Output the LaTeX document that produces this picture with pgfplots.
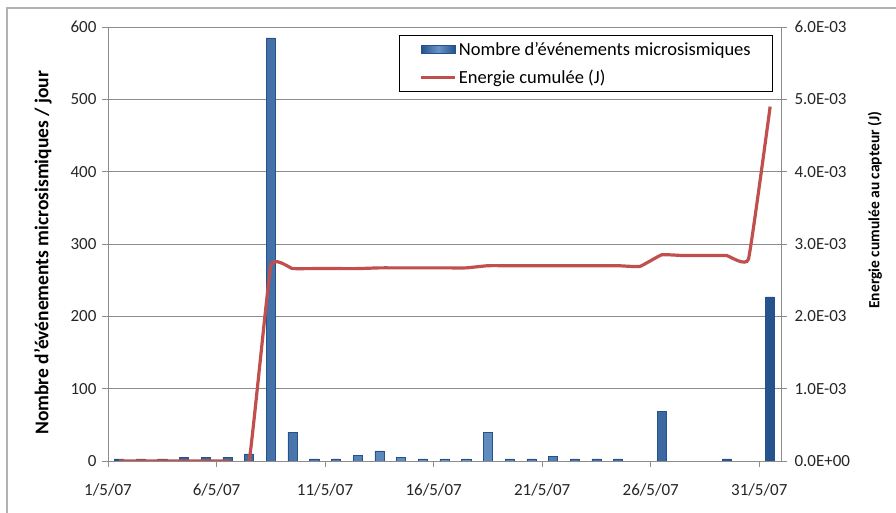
\documentclass[border=0pt]{standalone}
\usepackage{fontspec}
\setmainfont{Carlito}
\usepackage{pgfplots}
\usepackage{pgfplotstable}
\pgfplotsset{compat=1.18}

\definecolor{barblue}{HTML}{4F81BD}
\definecolor{bardark}{HTML}{24528C}
\definecolor{linered}{HTML}{C0504D}
\definecolor{gridgray}{HTML}{8C8C8C}

% daily counts, bar centred mid-day (1/5/07 tick at x=0)
\pgfplotstableread{
x n
0.5 3
1.5 3
2.5 3
3.5 5
4.5 5
5.5 5
6.5 10
7.5 585
8.5 40
9.5 3
10.5 3
11.5 8
12.5 14
13.5 5
14.5 3
15.5 3
16.5 3
17.5 40
18.5 3
19.5 3
20.5 6
21.5 3
22.5 3
23.5 3
25.5 69
28.5 3
30.5 227
}\events

% cumulated energy (J)
\pgfplotstableread{
x e
0.5 0
1.5 0
2.5 0
3.5 0
4.5 0
5.5 0
6.5 0
7.5 0.00270
8.5 0.00266
9.5 0.00266
10.5 0.00266
11.5 0.00266
12.5 0.00267
13.5 0.00267
14.5 0.00267
15.5 0.00267
16.5 0.00267
17.5 0.00270
18.5 0.00270
19.5 0.00270
20.5 0.00270
21.5 0.00270
22.5 0.00270
23.5 0.00270
24.5 0.00269
25.5 0.00285
26.5 0.00284
27.5 0.00284
28.5 0.00284
29.5 0.00279
30.5 0.00490
}\energy

\pgfplotsset{
  common/.style={
    at={(108pt,52pt)}, anchor=south west,
    scale only axis, width=673pt, height=434pt,
    xmin=0, xmax=31,
    axis line style={gridgray, line width=0.8pt},
    tick style={gridgray, line width=0.8pt},
    tick align=outside, major tick length=6pt,
    tick label style={black!85, font=\fontsize{17}{19}\selectfont},
    /pgf/number format/assume math mode=true,
  },
}

\begin{document}
\begin{tikzpicture}[x=1pt,y=1pt,font=\fontsize{15}{18}\selectfont]
\useasboundingbox (0,0) rectangle (896,513);
\draw[black!30, line width=1.5pt] (7,-5) -- (7,505) -- (905,505);

\begin{axis}[common,
  ybar, bar width=0.42,
  ymin=0, ymax=600, ytick={0,100,...,600},
  axis x line*=bottom, axis y line*=left,
  ymajorgrids, grid style={gridgray, line width=0.8pt},
  xtick={0,5,10,15,20,25,30},
  xticklabels={1/5/07,6/5/07,11/5/07,16/5/07,21/5/07,26/5/07,31/5/07},
  xticklabel style={yshift=-13pt},
  yticklabel style={xshift=-2pt},
  ylabel={\fontsize{19.5}{21}\selectfont\bfseries Nombre d'événements microsismiques / jour},
  every axis y label/.style={at={(axis description cs:-0.0966,0.48)}, rotate=90, anchor=center},
]
\addplot[draw=bardark, line width=0.5pt, left color=bardark, right color=bardark, middle color=barblue!85!white]
  table[x=x, y=n] {\events};
\end{axis}

\begin{axis}[common,
  ymin=0, ymax=0.006,
  axis x line=none, axis y line*=right,
  scaled y ticks=false,
  ytick={0,0.001,0.002,0.003,0.004,0.005,0.006},
  yticklabels={0.0E+00,1.0E-03,2.0E-03,3.0E-03,4.0E-03,5.0E-03,6.0E-03},
  yticklabel style={xshift=4pt},
  ylabel={\fontsize{15.5}{17}\selectfont\bfseries Energie cumulée au capteur (J)},
  every axis y label/.style={at={(axis description cs:1.1397,0.578)}, rotate=90, anchor=center},
  legend style={at={(0.988,0.982)}, anchor=north east, draw=black, line width=0.6pt,
    fill=white, inner xsep=20pt, inner ysep=5pt, row sep=9pt,
    font=\fontsize{18.5}{20}\selectfont},
  legend cell align=left,
]
\addlegendimage{legend image code/.code={\path[draw=bardark, line width=0.5pt, left color=bardark, right color=bardark, middle color=barblue!85!white] (0pt,-4pt) rectangle (34pt,4pt);}}
\addlegendentry{Nombre d'événements microsismiques}
\addplot[linered, line width=3.2pt, smooth, tension=0.2, mark=none,
  legend image code/.code={\draw[linered, line width=3.2pt] (0pt,0pt) -- (34pt,0pt);}]
  table[x=x, y=e] {\energy};
\addlegendentry{Energie cumulée (J)}
\end{axis}
\end{tikzpicture}
\end{document}
